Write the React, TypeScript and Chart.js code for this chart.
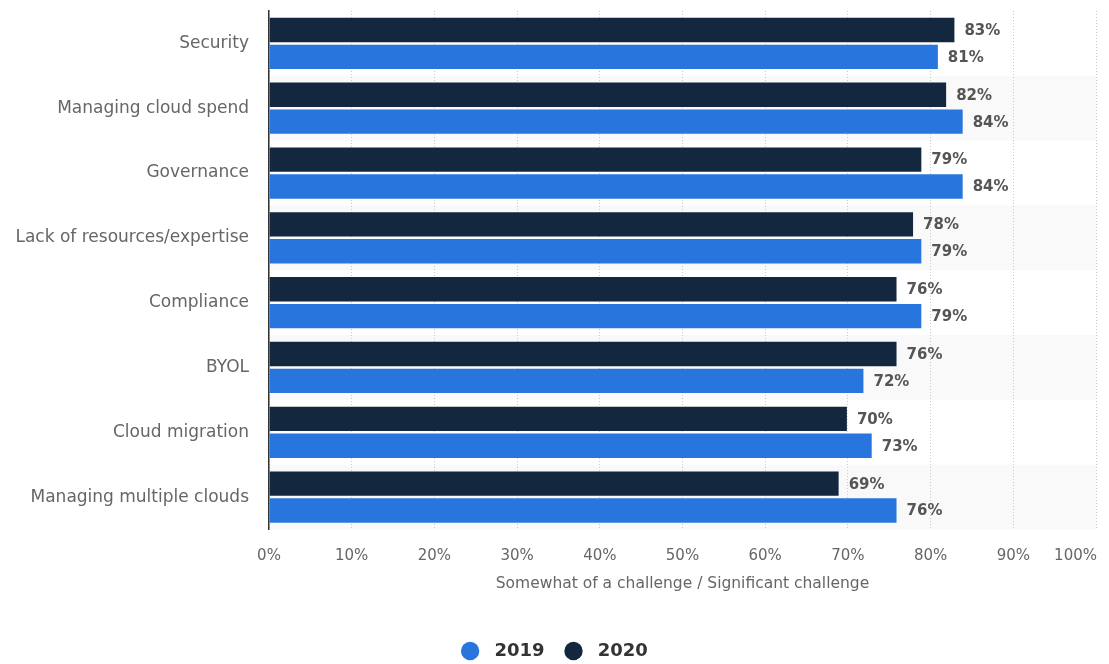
import React, { useEffect, useRef } from 'react';
import { Chart, registerables } from 'chart.js';

Chart.register(...registerables);

const categories = [
  'Security',
  'Managing cloud spend',
  'Governance',
  'Lack of resources/expertise',
  'Compliance',
  'BYOL',
  'Cloud migration',
  'Managing multiple clouds',
];
const values2020 = [83, 82, 79, 78, 76, 76, 70, 69];
const values2019 = [81, 84, 84, 79, 79, 72, 73, 76];
const xTickValues = [0, 10, 20, 30, 40, 50, 60, 70, 80, 90, 100];
const xTickLabels = ['0%', '10%', '20%', '30%', '40%', '50%', '60%', '70%', '80%', '90%', '100%'];
const axisTitle = 'Somewhat of a challenge / Significant challenge';
const seriesNames = ['2020', '2019'];

const COLOR_2020 = '#13273f';
const COLOR_2019 = '#2876dd';
const FONT = '"DejaVu Sans", Verdana, sans-serif';

const stripePlugin = {
  id: 'stripes',
  beforeDraw(chart: any) {
    const { ctx, chartArea } = chart;
    const y = chart.scales.y;
    const n = categories.length;
    const rowH = (chartArea.bottom - chartArea.top) / n;
    ctx.save();
    ctx.fillStyle = '#f9f9f9';
    for (let i = 1; i < n; i += 2) {
      const c = y.getPixelForValue(i);
      ctx.fillRect(chartArea.left, c - rowH / 2, chartArea.right - chartArea.left, rowH);
    }
    ctx.restore();
  },
};

const xLabelsPlugin = {
  id: 'xLabels',
  afterDraw(chart: any) {
    const { ctx, chartArea } = chart;
    const x = chart.scales.x;
    ctx.save();
    ctx.font = `15px ${FONT}`;
    ctx.fillStyle = '#666666';
    ctx.textBaseline = 'middle';
    xTickValues.forEach((v, i) => {
      const px = x.getPixelForValue(v);
      if (i === xTickValues.length - 1) {
        ctx.textAlign = 'right';
        ctx.fillText(xTickLabels[i], px + 1, chartArea.bottom + 27);
      } else {
        ctx.textAlign = 'center';
        ctx.fillText(xTickLabels[i], px, chartArea.bottom + 27);
      }
    });
    ctx.restore();
  },
};

const dataLabelPlugin = {
  id: 'dataLabels',
  afterDatasetsDraw(chart: any) {
    const { ctx } = chart;
    ctx.save();
    ctx.font = `bold 15px ${FONT}`;
    ctx.fillStyle = '#555555';
    ctx.textAlign = 'left';
    ctx.textBaseline = 'middle';
    chart.data.datasets.forEach((ds: any, di: number) => {
      const meta = chart.getDatasetMeta(di);
      meta.data.forEach((el: any, i: number) => {
        ctx.fillText(`${ds.data[i]}%`, el.x + 9, el.y + 1);
      });
    });
    ctx.restore();
  },
};

export default function App() {
  const ref = useRef<HTMLCanvasElement | null>(null);

  useEffect(() => {
    if (!ref.current) return;
    const chart = new Chart(ref.current, {
      type: 'bar',
      data: {
        labels: categories,
        datasets: [
          {
            label: seriesNames[0],
            data: values2020,
            backgroundColor: COLOR_2020,
            borderColor: 'rgba(255,255,255,0.25)',
            borderWidth: 1,
            categoryPercentage: 0.83,
            barPercentage: 0.98,
          },
          {
            label: seriesNames[1],
            data: values2019,
            backgroundColor: COLOR_2019,
            borderColor: 'rgba(255,255,255,0.25)',
            borderWidth: 1,
            categoryPercentage: 0.83,
            barPercentage: 0.98,
          },
        ],
      },
      options: {
        indexAxis: 'y',
        animation: false,
        responsive: true,
        maintainAspectRatio: false,
        layout: { padding: { top: 11, right: 13, left: 13, bottom: -6 } },
        plugins: {
          legend: {
            position: 'bottom',
            reverse: true,
            labels: {
              usePointStyle: true,
              pointStyle: 'circle',
              boxHeight: 13,
              padding: 20,
              color: '#333333',
              font: { family: FONT, size: 18, weight: 'bold' },
              generateLabels(chart: any) {
                return chart.data.datasets.map((ds: any, i: number) => ({
                  text: ' ' + ds.label,
                  fillStyle: ds.backgroundColor,
                  strokeStyle: ds.backgroundColor,
                  lineWidth: 0,
                  pointStyle: 'circle',
                  datasetIndex: i,
                  hidden: false,
                  fontColor: '#333333',
                }));
              },
            },
          },
          tooltip: { enabled: false },
        },
        scales: {
          x: {
            min: 0,
            max: 100,
            position: 'bottom',
            afterBuildTicks(scale: any) {
              scale.ticks = xTickValues.map((v) => ({ value: v }));
            },
            afterFit(scale: any) {
              scale.height = 92.5;
            },
            ticks: { display: false },
            grid: {
              color: '#c8c8c8',
              lineWidth: 1,
              drawTicks: false,
            },
            border: { display: false, dash: [1, 2] },
            title: {
              display: true,
              text: axisTitle,
              color: '#666666',
              font: { family: FONT, size: 15.5 },
              padding: { top: 0, bottom: 29 },
            },
          },
          y: {
            afterFit(scale: any) {
              scale.width = 256;
              scale.paddingTop = 0;
              scale.paddingBottom = 0;
            },
            ticks: {
              color: '#666666',
              padding: 20,
              font: { family: FONT, size: 17 },
            },
            grid: { display: false, drawTicks: false },
            border: { display: true, color: '#333333', width: 1.5 },
          },
        },
      },
      plugins: [stripePlugin, xLabelsPlugin, dataLabelPlugin],
    });
    return () => chart.destroy();
  }, []);

  return (
    <div style={{ position: 'fixed', left: 0, top: 0, width: 1109, height: 664, background: '#ffffff' }}>
      <canvas ref={ref} />
    </div>
  );
}
